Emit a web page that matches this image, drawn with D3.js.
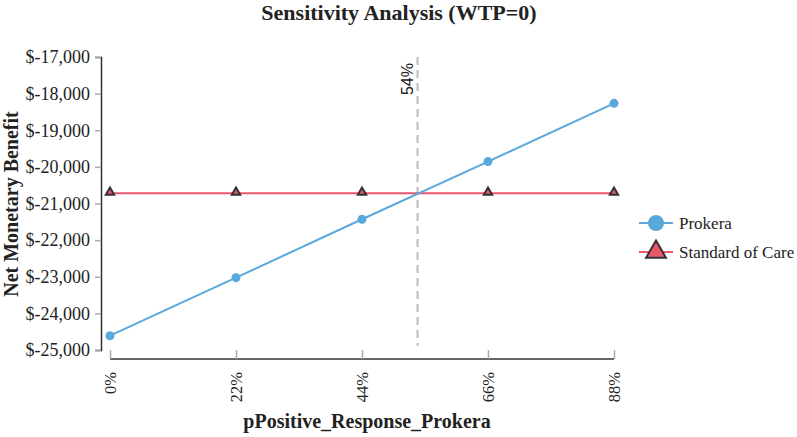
<!DOCTYPE html>
<html>
<head>
<meta charset="utf-8">
<script src="https://cdn.jsdelivr.net/npm/d3@7"></script>
<style>
  body { margin: 0; background: #fff; }
</style>
</head>
<body>
<svg id="chart" width="797" height="437"></svg>
<script>
// values
var xTicks = [0, 0.22, 0.44, 0.66, 0.88];
var prokera = [-24610, -23025, -21430, -19855, -18265];
var standardCare = [-20720, -20720, -20720, -20720, -20720];
var yTicks = [-17000, -18000, -19000, -20000, -21000, -22000, -23000, -24000, -25000];
var threshold = 0.537;
var thresholdLabel = "54%";
var seriesNames = ["Prokera", "Standard of Care"];

var blue = "#5aa9dc";
var red = "#e8566b";
var dark = "#333";
var serif = "'Liberation Serif', 'Times New Roman', serif";
var sans = "'Liberation Sans', Arial, sans-serif";

var svg = d3.select("#chart");

var x = d3.scaleLinear().domain([0, 0.88]).range([110, 614]);
var y = d3.scaleLinear().domain([-25000, -17000]).range([350, 57]);

function txt(sel, size, bold, fam) {
  return sel.style("font-family", fam || serif)
    .style("font-size", size + "px")
    .style("font-weight", bold ? "bold" : "normal")
    .attr("fill", "#222");
}

txt(svg.append("text")
  .attr("x", 399).attr("y", 19.5)
  .attr("text-anchor", "middle"), 22, true)
  .text("Sensitivity Analysis (WTP=0)");

// y axis (offset left of the plot)
var yAxis = svg.append("g")
  .attr("transform", "translate(101,0)")
  .call(d3.axisLeft(y).tickValues(yTicks).tickSize(6)
    .tickFormat(function(d) { return "$" + d3.format(",")(d).replace("\u2212", "-"); }));
yAxis.select(".domain").attr("stroke", dark).attr("stroke-width", 1.5);
yAxis.selectAll(".tick line").attr("stroke", "#aaa").attr("stroke-width", 1.5);
txt(yAxis.selectAll(".tick text").attr("x", -11), 18);

// x axis (offset below the plot)
var xAxis = svg.append("g")
  .attr("transform", "translate(0,359)")
  .call(d3.axisBottom(x).tickValues(xTicks).tickSize(-9)
    .tickFormat(d3.format(".0%")));
xAxis.select(".domain").attr("stroke", dark).attr("stroke-width", 1.5)
  .attr("d", "M" + x.range()[0] + ",0H" + x.range()[1]);
xAxis.selectAll(".tick line").attr("stroke", "#aaa").attr("stroke-width", 1.5);
txt(xAxis.selectAll(".tick text")
  .attr("transform", "rotate(-90)")
  .attr("x", -13).attr("y", 0).attr("dy", "0.35em")
  .attr("text-anchor", "end"), 16.5);

txt(svg.append("text")
  .attr("transform", "translate(18,204) rotate(-90)")
  .attr("text-anchor", "middle"), 20, true)
  .text("Net Monetary Benefit");

txt(svg.append("text")
  .attr("x", 367).attr("y", 428)
  .attr("text-anchor", "middle"), 20, true)
  .text("pPositive_Response_Prokera");

// threshold marker
svg.append("line")
  .attr("x1", x(threshold)).attr("x2", x(threshold))
  .attr("y1", y(-17000)).attr("y2", y(-25000) - 4)
  .attr("stroke", "#bbb").attr("stroke-width", 2)
  .attr("stroke-dasharray", "8,5");
txt(svg.append("text")
  .attr("transform", "translate(" + (x(threshold) - 5) + ",63) rotate(-90)")
  .attr("text-anchor", "end"), 16, false, sans)
  .text(thresholdLabel);

var line = d3.line()
  .x(function(d, i) { return x(xTicks[i]); })
  .y(function(d) { return y(d); });

svg.append("path").datum(standardCare)
  .attr("d", line).attr("fill", "none")
  .attr("stroke", red).attr("stroke-width", 2);
svg.append("path").datum(prokera)
  .attr("d", line).attr("fill", "none")
  .attr("stroke", blue).attr("stroke-width", 2);

var tri = d3.symbol().type(d3.symbolTriangle);
svg.selectAll("path.soc").data(standardCare).enter().append("path")
  .attr("class", "soc")
  .attr("d", tri.size(30))
  .attr("transform", function(d, i) { return "translate(" + x(xTicks[i]) + "," + (y(d) - 1) + ")"; })
  .attr("fill", red).attr("stroke", dark).attr("stroke-width", 2);

svg.selectAll("circle.pro").data(prokera).enter().append("circle")
  .attr("class", "pro")
  .attr("cx", function(d, i) { return x(xTicks[i]); })
  .attr("cy", function(d) { return y(d); })
  .attr("r", 4.5).attr("fill", blue);

// legend
var legend = svg.append("g").attr("transform", "translate(639,223)");
var rows = legend.selectAll("g").data(seriesNames).enter().append("g")
  .attr("transform", function(d, i) { return "translate(0," + (i * 29) + ")"; });
rows.append("line")
  .attr("x1", 0).attr("x2", 34)
  .attr("stroke", function(d, i) { return i === 0 ? blue : red; })
  .attr("stroke-width", 2);
rows.filter(function(d, i) { return i === 0; }).append("circle")
  .attr("cx", 17).attr("r", 8).attr("fill", blue);
rows.filter(function(d, i) { return i === 1; }).append("path")
  .attr("d", d3.symbol().type(d3.symbolTriangle).size(170))
  .attr("transform", "translate(17,0)")
  .attr("fill", red).attr("stroke", dark).attr("stroke-width", 2);
txt(rows.append("text")
  .attr("x", 40).attr("dy", "0.35em"), 17)
  .text(function(d) { return d; });
</script>
</body>
</html>
